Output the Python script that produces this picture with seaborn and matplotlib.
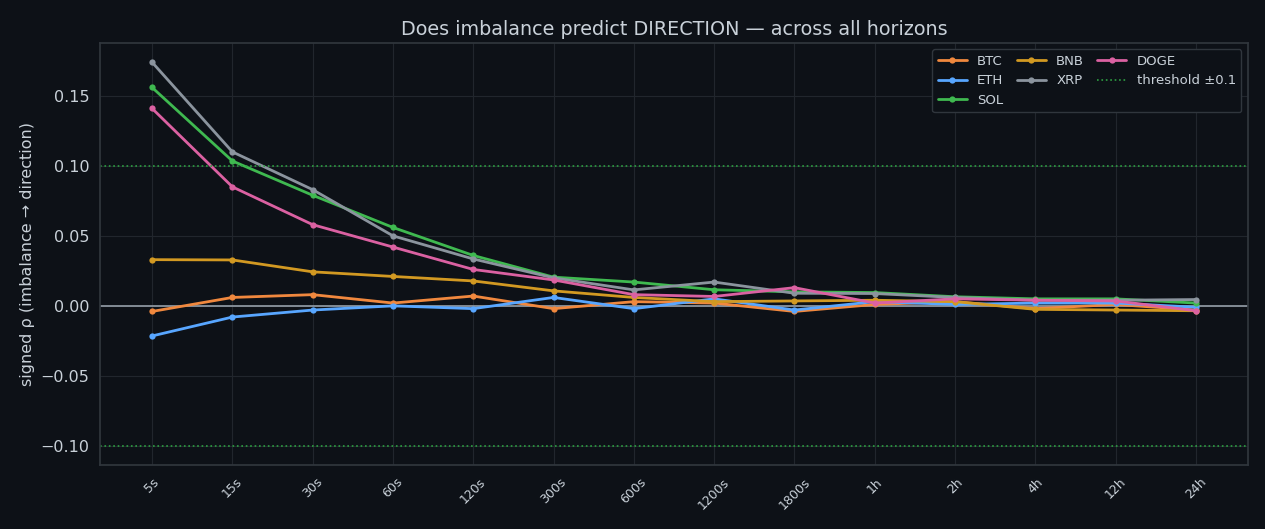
import matplotlib
matplotlib.use("Agg")
import matplotlib.pyplot as plt
import seaborn as sns
import pandas as pd

horizons = ["5s", "15s", "30s", "60s", "120s", "300s", "600s", "1200s", "1800s",
            "1h", "2h", "4h", "12h", "24h"]
btc  = [-0.004, 0.006, 0.008, 0.002, 0.007, -0.002, 0.003, 0.002, -0.004, 0.001, 0.003, -0.002, 0.001, -0.003]
eth  = [-0.0215, -0.008, -0.003, 0.000, -0.002, 0.006, -0.002, 0.005, -0.003, 0.003, 0.001, 0.002, 0.002, -0.001]
sol  = [0.156, 0.1035, 0.079, 0.056, 0.036, 0.0205, 0.017, 0.0115, 0.010, 0.0095, 0.0065, 0.005, 0.005, 0.002]
bnb  = [0.033, 0.0328, 0.0243, 0.021, 0.0178, 0.0107, 0.006, 0.003, 0.0035, 0.004, 0.003, -0.0025, -0.003, -0.0035]
xrp  = [0.174, 0.110, 0.083, 0.050, 0.0335, 0.020, 0.0114, 0.017, 0.009, 0.0088, 0.006, 0.004, 0.004, 0.0045]
doge = [0.141, 0.085, 0.058, 0.042, 0.026, 0.0185, 0.008, 0.0067, 0.013, 0.002, 0.005, 0.004, 0.0035, -0.0035]

series = {"BTC": btc, "ETH": eth, "SOL": sol, "BNB": bnb, "XRP": xrp, "DOGE": doge}
colors = {"BTC": "#f0883e", "ETH": "#58a6ff", "SOL": "#3fb950",
          "BNB": "#d29922", "XRP": "#8b949e", "DOGE": "#db61a2"}

rows = []
for sym, vals in series.items():
    for i, (h, v) in enumerate(zip(horizons, vals)):
        rows.append({"idx": i, "horizon": h, "rho": v, "symbol": sym})
df = pd.DataFrame(rows)

bg = "#0d1117"
txt = "#c9d1d9"
sns.set_theme(style="dark")
plt.rcParams["font.family"] = ["DejaVu Sans"]

fig, ax = plt.subplots(figsize=(12.65, 5.29), dpi=100)
fig.patch.set_facecolor(bg)
ax.set_facecolor(bg)

sns.lineplot(data=df, x="idx", y="rho", hue="symbol", palette=colors,
             hue_order=list(series.keys()), marker="o", markersize=4.5,
             markeredgewidth=0, linewidth=2, sort=False, ax=ax)

ax.axhline(0, color="#8b949e", linewidth=1.3, zorder=1)
ax.axhline(0.1, color="#2ea043", linestyle=":", linewidth=1.2, label="threshold ±0.1")
ax.axhline(-0.1, color="#2ea043", linestyle=":", linewidth=1.2)

ax.set_xticks(range(len(horizons)))
ax.set_xticklabels(horizons, rotation=45, fontsize=9, color=txt)
ax.set_xlim(-0.65, len(horizons) - 1 + 0.65)
ax.set_ylim(-0.1137, 0.1879)
ax.set_yticks([-0.10, -0.05, 0.00, 0.05, 0.10, 0.15])
ax.set_yticklabels(["−0.10", "−0.05", "0.00", "0.05", "0.10", "0.15"])
ax.tick_params(axis="y", labelsize=11.5, colors=txt, length=4, color="#8b949e")
ax.tick_params(axis="x", colors=txt, length=4, color="#8b949e")
ax.set_xlabel("")
ax.set_ylabel("signed ρ (imbalance → direction)", fontsize=11.5, color=txt)
ax.set_title("Does imbalance predict DIRECTION — across all horizons", fontsize=13.8, color=txt)

ax.grid(True, color="#21262d", linewidth=0.8)
for s in ax.spines.values():
    s.set_color("#30363d")
    s.set_visible(True)

leg = ax.legend(ncol=3, loc="upper right", fontsize=9.5, frameon=True,
                facecolor=bg, edgecolor="#30363d", labelcolor=txt,
                handlelength=2.2, columnspacing=1.0)
leg.get_frame().set_alpha(1)

fig.subplots_adjust(left=0.079, right=0.9866, top=0.919, bottom=0.121)
fig.savefig("out.png", dpi=100, facecolor=bg)
